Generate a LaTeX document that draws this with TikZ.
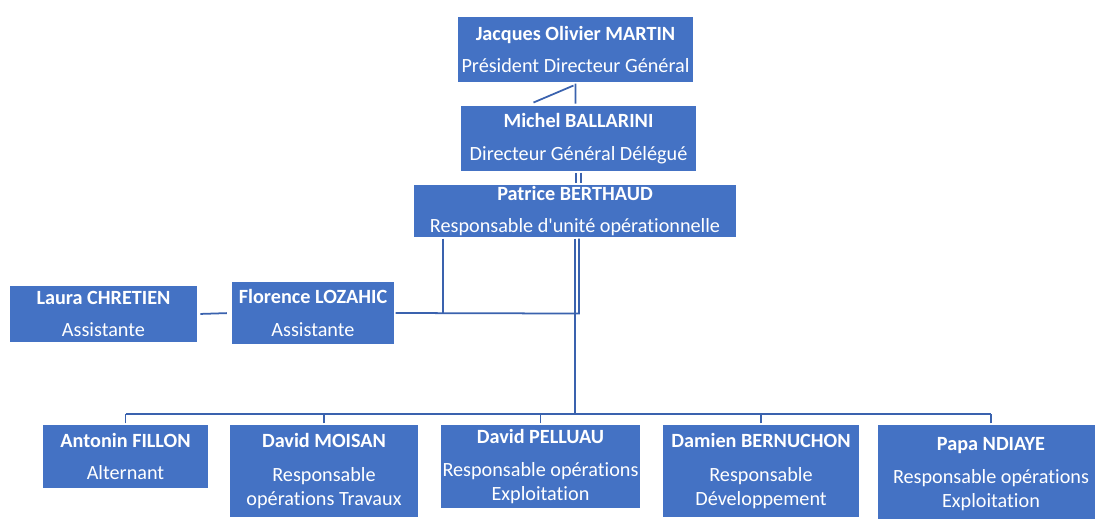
\documentclass[tikz,border=0pt]{standalone}
\usepackage{fontspec}
\setmainfont{Carlito}[Ligatures={NoCommon}]
\definecolor{unitblue}{HTML}{4472C4}
\definecolor{linkblue}{HTML}{3A62AE}

\begin{document}
\begin{tikzpicture}
[x=0.02cm,y=-0.02cm,
unit/.style 2 args={rectangle,draw=white,line width=0.6pt,fill=unitblue,text=white,align=center,inner sep=0pt,minimum width=#1*0.02cm,minimum height=#2*0.02cm,font=\fontsize{11.5}{12.5}\selectfont},
conn/.style={draw=linkblue,line width=1pt},
trunk/.style={draw=linkblue,line width=1.5pt}]
\useasboundingbox (0,0) rectangle (1095,518);
\node[unit={237}{67}] (martin) at (575.5,49.5) {\textbf{Jacques Olivier MARTIN}\\[6pt]Président Directeur Général};
\node[unit={237}{67}] (ballarini) at (578.5,138.5) {\textbf{Michel BALLARINI}\\[6pt]Directeur Général Délégué};
\node[unit={324}{54}] (berthaud) at (575,211) {\textbf{Patrice BERTHAUD}\\[6pt]Responsable d\textquotesingle unité opérationnelle};
\node[unit={189}{58}] (laura) at (103.5,314) {\textbf{Laura CHRETIEN}\\[6pt]Assistante};
\node[unit={164}{64}] (florence) at (313,313) {\textbf{Florence LOZAHIC}\\[6pt]Assistante};
\node[unit={167}{65}] (fillon) at (125.5,456.5) {\textbf{Antonin FILLON}\\[6pt]Alternant};
\node[unit={190}{94}] (moisan) at (324,471) {\textbf{David MOISAN}\\[7pt]Responsable\\[1pt]opérations Travaux};
\node[unit={201}{85}] (pelluau) at (540.5,466.5) {\textbf{David PELLUAU}\\[6pt]Responsable opérations\\[1pt]Exploitation};
\node[unit={198}{94}] (bernuchon) at (761,471) {\textbf{Damien BERNUCHON}\\[7pt]Responsable\\[1pt]Développement};
\node[unit={228}{100}] (ndiaye) at (991,474) {\textbf{Papa NDIAYE}\\[6pt]Responsable opérations\\[1pt]Exploitation};
\coordinate (tee) at (443,313);
\coordinate (bus) at (575,414);
% top links
\draw[conn] (martin.south) -- ++(0,20) (martin.south) ++(-2,2) -- ++(-40,17);
\draw[conn,double=white,double distance=1.8pt] (ballarini.south) -- (ballarini.south |- berthaud.north);
% assistants
\draw[trunk] (berthaud.south) -- (bus);
\draw[conn] (berthaud.south) ++(4,0) -- ++(0,75) -- (florence.east);
\draw[conn] (tee |- berthaud.south) -- (tee);
\draw[conn,shorten <=1pt,shorten >=2pt] (laura.east) -- (florence.west);
% team
\draw[conn] (fillon.north |- bus) -- (ndiaye.north |- bus);
\foreach \n in {fillon,moisan,pelluau,bernuchon,ndiaye}
\draw[conn] (\n.north) -- (\n.north |- bus);
\end{tikzpicture}
\end{document}
